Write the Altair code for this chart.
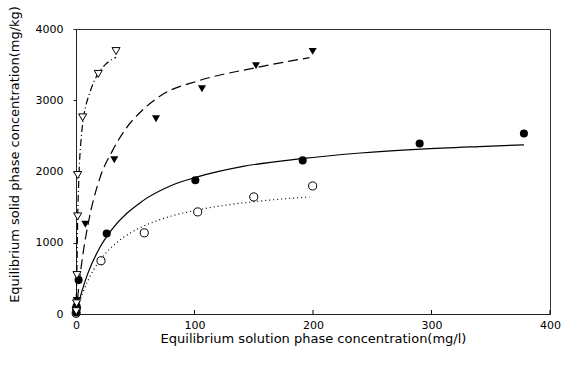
import altair as alt
import pandas as pd

# ---- measured points (x: mg/l, y: mg/kg) ----
a_x = [0.2, 0.5, 0.8, 1.4, 1.4, 5.6, 18.8, 33.8]
a_y = [40, 150, 546, 1370, 1950, 2760, 3370, 3690]
b_x = [0.3, 0.6, 7.9, 32.3, 67.5, 106.3, 151.9, 199.7]
b_y = [60, 190, 1260, 2166, 2740, 3160, 3486, 3686]
c_x = [0.2, 0.5, 2.2, 25.9, 100.7, 191.3, 290.0, 378.0]
c_y = [20, 110, 476, 1130, 1876, 2156, 2394, 2534]
d_x = [0.1, 0.4, 21.1, 57.6, 102.7, 150.0, 199.7]
d_y = [10, 80, 747, 1139, 1433, 1643, 1797]

# ---- fitted curves ----
fa_x = [0, 0.5, 1, 1.5, 2.2, 3.2, 4.3, 5.6, 8, 11.3, 16.9, 25.3, 33.8]
fa_y = [0, 400, 900, 1400, 1800, 2200, 2450, 2670, 2900, 3090, 3322, 3510, 3602]
fb_x = [0, 2, 5, 10, 20, 31, 42, 56, 73, 104, 152, 197]
fb_y = [0, 330, 740, 1245, 1900, 2300, 2600, 2860, 3080, 3276, 3458, 3598]
fc_x = [0, 5, 10, 20, 30, 56, 80, 101, 141, 190, 240, 291, 340, 378]
fc_y = [0, 320, 570, 930, 1180, 1584, 1800, 1918, 2072, 2180, 2260, 2314, 2350, 2374]
fd_x = [0, 3, 6, 10, 15, 20, 28, 40, 56, 75, 101, 130, 155, 197]
fd_y = [0, 169, 310, 466, 623, 748, 905, 1074, 1226, 1347, 1456, 1536, 1585, 1643]

x_ticks = [100, 200, 300, 400]

FONT = "DejaVu Sans"

xs = alt.Scale(domain=[0, 400], nice=False)
ys = alt.Scale(domain=[0, 4000], nice=False)

xax = alt.Axis(values=[0, 100, 200, 300, 400], ticks=False, labelPadding=5,
               format="d", labelFlush=False,
               title="Equilibrium solution phase concentration(mg/l)",
               titleX=237, titleY=24, titleBaseline="middle", grid=False)
yax = alt.Axis(values=[0, 1000, 2000, 3000, 4000], tickSize=3, labelPadding=10,
               format="d", labelFlush=False,
               title="Equilibrium solid phase concentration(mg/kg)",
               titleX=-62, titleY=125, titleBaseline="middle", titleAlign="center",
               titleAngle=270, grid=False)


def curve(x, y, dash):
    df = pd.DataFrame({"x": x, "y": y})
    kw = {"color": "black", "strokeWidth": 1.2, "interpolate": "monotone"}
    if dash:
        kw["strokeDash"] = dash
    return alt.Chart(df).mark_line(**kw).encode(
        x=alt.X("x:Q", scale=xs, axis=xax),
        y=alt.Y("y:Q", scale=ys, axis=yax),
    )


def pts(x, y, shape, filled):
    df = pd.DataFrame({"x": x, "y": y})
    if filled:
        m = alt.Chart(df).mark_point(shape=shape, filled=True, color="black",
                                     size=65, opacity=1)
    else:
        m = alt.Chart(df).mark_point(shape=shape, filled=False, stroke="black",
                                     fill="white", fillOpacity=1, strokeWidth=1,
                                     size=65, opacity=1)
    return m.encode(x=alt.X("x:Q", scale=xs), y=alt.Y("y:Q", scale=ys))


tick_df = pd.DataFrame({"t": x_ticks})
inner_ticks = alt.Chart(tick_df).mark_rule(color="black", strokeWidth=1).encode(
    x=alt.X("t:Q", scale=xs),
    y=alt.value(281),
    y2=alt.value(285),
)

chart = alt.layer(
    curve(fa_x, fa_y, [7, 3, 1, 3]),
    curve(fb_x, fb_y, [10, 5]),
    curve(fc_x, fc_y, None),
    curve(fd_x, fd_y, [1, 3]),
    inner_ticks,
    pts(d_x, d_y, "circle", False),
    pts(c_x, c_y, "circle", True),
    pts(b_x, b_y, "triangle-down", True),
    pts(a_x, a_y, "triangle-down", False),
).properties(
    width=474, height=285,
    autosize=alt.AutoSizeParams(type="none"),
    padding={"left": 76, "top": 29, "right": 12, "bottom": 58},
    background="white",
).configure_view(
    stroke="#333", strokeWidth=1
).configure_axis(
    labelFont=FONT, titleFont=FONT, labelFontSize=11, titleFontSize=13,
    titleFontWeight="normal", labelColor="black", titleColor="black",
    domainColor="#222", tickColor="#222",
)

chart.save("out.html", embed_options={"renderer": "svg", "actions": False})
